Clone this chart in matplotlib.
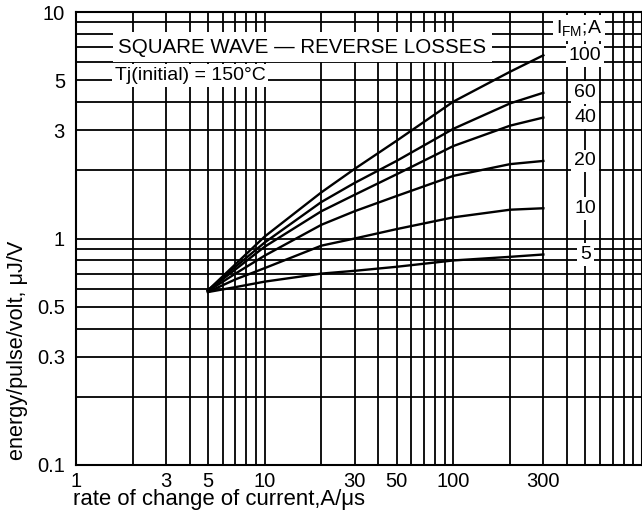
import matplotlib.pyplot as plt
from matplotlib.ticker import FixedLocator, NullFormatter, LogLocator

plt.rcParams['font.family'] = ['Liberation Sans', 'DejaVu Sans']
plt.rcParams['mathtext.fontset'] = 'custom'
plt.rcParams['mathtext.rm'] = 'Liberation Sans'
plt.rcParams['mathtext.it'] = 'Liberation Sans:italic'

# rate of change of current, A/us
rate = [5, 7, 10, 20, 30, 50, 100, 200, 300]

# energy/pulse/volt (uJ/V) for each peak forward current
i_fm = ['100', '60', '40', '20', '10', '5']
energy = {
    '100': [0.59, 0.77, 1.02, 1.60, 2.03, 2.70, 4.02, 5.45, 6.44],
    '60': [0.59, 0.75, 0.96, 1.45, 1.76, 2.20, 3.05, 3.95, 4.40],
    '40': [0.59, 0.73, 0.92, 1.32, 1.56, 1.92, 2.56, 3.15, 3.42],
    '20': [0.585, 0.70, 0.84, 1.15, 1.32, 1.54, 1.89, 2.13, 2.20],
    '10': [0.58, 0.66, 0.74, 0.93, 1.00, 1.10, 1.24, 1.34, 1.36],
    '5': [0.58, 0.61, 0.645, 0.70, 0.72, 0.75, 0.80, 0.83, 0.85],
}

x_ticks = [1, 3, 5, 10, 30, 50, 100, 300]
y_ticks = [0.1, 0.3, 0.5, 1, 3, 5, 10]

fig = plt.figure(figsize=(6.42, 5.2), dpi=100)
ax = fig.add_axes([76 / 642, 1 - 465 / 520, 566 / 642, 453 / 520])
ax.set_xscale('log')
ax.set_yscale('log')
ax.set_xlim(1, 1000)
ax.set_ylim(0.1, 10)

box = dict(boxstyle='square,pad=0.15', fc='white', ec='none')
for k in i_fm:
    ax.plot(rate, energy[k], color='black', lw=1.7, zorder=3,
            solid_joinstyle='round')
    ax.text(500, energy[k][-1], k, fontsize=14, ha='center', va='center',
            zorder=4, bbox=box)

ax.text(462, 8.5, r'I$_{\mathrm{FM}}$;A', fontsize=14, ha='center', va='center',
        zorder=4, bbox=box)
ax.text(10 ** 1.2, 7.0, 'SQUARE WAVE \u2014 REVERSE LOSSES', fontsize=14.8,
        ha='center', va='center', zorder=4,
        bbox=dict(boxstyle='square,pad=0.25', fc='white', ec='none'))
ax.text(1.6, 5.25, 'Tj(initial) = 150\u00b0C', fontsize=14,
        ha='left', va='center', zorder=4,
        bbox=dict(boxstyle='square,pad=0.15', fc='white', ec='none'))

ax.xaxis.set_major_locator(FixedLocator(x_ticks))
ax.xaxis.set_major_formatter(plt.FixedFormatter([str(v) for v in x_ticks]))
ax.xaxis.set_minor_locator(LogLocator(base=10, subs=range(1, 10)))
ax.xaxis.set_minor_formatter(NullFormatter())
ax.yaxis.set_major_locator(FixedLocator(y_ticks))
ax.yaxis.set_major_formatter(plt.FixedFormatter(['0.1', '0.3', '0.5', '1', '3', '5', '10']))
ax.yaxis.set_minor_locator(LogLocator(base=10, subs=range(1, 10)))
ax.yaxis.set_minor_formatter(NullFormatter())

ax.grid(True, which='both', color='black', lw=1.3)
ax.tick_params(which='both', length=0, labelsize=14.5)
ax.tick_params(axis='y', pad=8)
ax.tick_params(axis='x', pad=5)
for s in ax.spines.values():
    s.set_linewidth(1.5)

fig.text(219 / 642, 1 - 500 / 520, 'rate of change of current,A/\u03bcs',
         fontsize=15.9, ha='center', va='center')
fig.text(18 / 642, 1 - 350 / 520, 'energy/pulse/volt, \u03bcJ/V',
         fontsize=15.6, ha='center', va='center', rotation=90)

fig.savefig('out.png', dpi=100)
